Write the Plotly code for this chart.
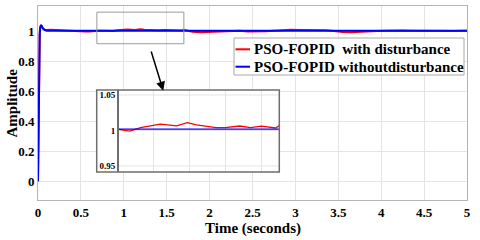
import plotly.graph_objects as go

# ---------------- data ----------------
time_blue = [0, 0.005, 0.01, 0.015, 0.02, 0.025, 0.03, 0.035, 0.045, 0.06, 0.08, 0.1, 5.0]
amp_blue = [0, 0.35, 0.7, 0.9, 0.98, 1.02, 1.035, 1.04, 1.03, 1.015, 1.006, 1.002, 1.002]

time_red = [0, 0.005, 0.01, 0.015, 0.02, 0.025, 0.03, 0.035, 0.045, 0.06, 0.08,
            0.1, 0.15, 0.2, 0.25, 0.3, 0.4, 0.5, 0.55, 0.6, 0.65, 0.7,
            0.8, 0.87, 0.93, 1.04, 1.13, 1.19, 1.24, 1.35, 1.4, 1.48, 1.54, 1.6, 1.68, 1.7,
            1.75, 1.8, 1.9, 2.0, 2.1, 2.15, 2.25, 2.35, 2.45, 2.55, 2.65, 2.75,
            2.85, 2.95, 3.05, 3.15, 3.25, 3.35, 3.45, 3.55, 3.65, 3.75, 3.85, 3.95,
            4.05, 4.15, 4.25, 4.35, 4.45, 4.55, 4.65, 4.75, 4.85, 4.95, 5.0]
amp_red = [0, 0.35, 0.7, 0.9, 0.98, 1.02, 1.035, 1.04, 1.03, 1.015, 1.008,
           1.006, 1.008, 1.006, 1.004, 1.001, 1.0, 0.998, 0.996, 0.997, 1.0, 1.002,
           1.002, 0.999, 1.004, 1.009, 1.0066, 1.011, 1.008, 1.004, 1.004, 1.0063, 1.004, 1.006, 1.0035, 1.007,
           0.998, 0.994, 0.992, 0.993, 0.994, 0.996, 1.0, 1.001, 0.997, 0.996, 0.998, 1.002,
           1.006, 1.008, 1.007, 1.008, 1.007, 1.005, 1.0, 0.993, 0.992, 0.993, 0.995, 1.0,
           1.002, 1.005, 1.003, 1.002, 1.001, 0.999, 0.997, 0.997, 0.999, 1.001, 1.002]

series_names = ["PSO-FOPID  with disturbance", "PSO-FOPID withoutdisturbance"]
series_colors = ["#ff0000", "#0000ff"]

x_ticks = [0, 0.5, 1, 1.5, 2, 2.5, 3, 3.5, 4, 4.5, 5]
x_tick_text = ["0", "0.5", "1", "1.5", "2", "2.5", "3", "3.5", "4", "4.5", "5"]
y_ticks = [0, 0.2, 0.4, 0.6, 0.8, 1]
y_tick_text = ["0", "0.2", "0.4", "0.6", "0.8", "1"]
x_title = "Time (seconds)"
y_title = "Amplitude"

inset_x_ticks = [0.8, 1.0, 1.2, 1.4, 1.6]
inset_y_ticks = [0.95, 1.0, 1.05]
inset_y_tick_text = ["0.95", "1", "1.05"]
inset_t_start = 0.8

zoom_box = dict(x0=0.686, x1=1.70, y0=0.915, y1=1.125)
arrow_from = (1.314, 0.873)
arrow_to = (1.46, 0.602)

# ---------------- layout helpers (pixel -> paper) ----------------
W, H = 480, 240
ML, MR, MT, MB = 38, 13, 6, 40
PW, PH = W - ML - MR, H - MT - MB


def px2x(px):
    return (px - ML) / PW


def px2y(py):
    return 1 - (py - MT) / PH


SERIF = "'Liberation Serif', 'Times New Roman', Times, serif"
GRID = "#e4e4e4"
FRAME = "#b4b4b4"

fig = go.Figure()

# main traces
fig.add_trace(go.Scatter(x=time_red, y=amp_red, mode="lines",
                         line=dict(color=series_colors[0], width=2),
                         name=series_names[0], showlegend=False))
fig.add_trace(go.Scatter(x=time_blue, y=amp_blue, mode="lines",
                         line=dict(color=series_colors[1], width=2),
                         name=series_names[1], showlegend=False))

# inset traces
ri = [i for i, t in enumerate(time_red) if t >= inset_t_start]
fig.add_trace(go.Scatter(x=[time_red[i] for i in ri], y=[amp_red[i] for i in ri],
                         mode="lines", line=dict(color=series_colors[0], width=1.3),
                         xaxis="x2", yaxis="y2", showlegend=False))
bt = [inset_t_start, time_blue[-1]]
fig.add_trace(go.Scatter(x=bt, y=[amp_blue[-1], amp_blue[-1]],
                         mode="lines", line=dict(color=series_colors[1], width=1.3),
                         xaxis="x2", yaxis="y2", showlegend=False))

tickfont = dict(family=SERIF, size=13, color="black", weight="bold")
titlefont = dict(family=SERIF, size=15, color="black", weight="bold")

fig.update_layout(
    width=W, height=H,
    margin=dict(l=ML, r=MR, t=MT, b=MB, autoexpand=False),
    paper_bgcolor="white", plot_bgcolor="white",
    showlegend=False,
    xaxis=dict(range=[0, 5], tickvals=x_ticks, ticktext=x_tick_text,
               showgrid=True, gridcolor=GRID, gridwidth=1, zeroline=False,
               showline=True, linecolor=FRAME, linewidth=1, mirror=True,
               ticks="", tickfont=tickfont, automargin=False),
    yaxis=dict(range=[-0.125, 1.166], tickvals=y_ticks, ticktext=y_tick_text,
               showgrid=True, gridcolor=GRID, gridwidth=1, zeroline=False,
               showline=True, linecolor=FRAME, linewidth=1, mirror=True,
               ticks="", tickfont=tickfont, automargin=False),
    xaxis2=dict(domain=[px2x(96.7), px2x(279.3)], range=[0.687, 1.7],
                anchor="y2", tickvals=inset_x_ticks, showticklabels=False,
                showgrid=True, gridcolor=GRID, zeroline=False,
                showline=False, ticks="", automargin=False),
    yaxis2=dict(domain=[px2y(172), px2y(90)], range=[0.9415, 1.057],
                anchor="free", position=px2x(117),
                tickvals=inset_y_ticks, ticktext=inset_y_tick_text,
                showgrid=False, zeroline=False, automargin=False,
                showline=True, linecolor="#6e6e6e", linewidth=1.5, ticks="",
                tickfont=dict(family=SERIF, size=9, color="black", weight="bold")),
)

shapes = []
# inset horizontal grid lines (only over the inset plot region)
for v in inset_y_ticks:
    shapes.append(dict(type="line", xref="x2", yref="y2", x0=inset_t_start, x1=1.7,
                       y0=v, y1=v, line=dict(color=GRID, width=1), layer="below"))
# inset frame
shapes.append(dict(type="rect", xref="paper", yref="paper",
                   x0=px2x(96.7), x1=px2x(279.3), y0=px2y(172), y1=px2y(90),
                   line=dict(color="#6e6e6e", width=1.5), fillcolor="rgba(0,0,0,0)",
                   layer="above"))
# zoom indicator rectangle
shapes.append(dict(type="rect", xref="x", yref="y", **zoom_box,
                   line=dict(color="#9a9a9a", width=1), layer="above"))
# legend box
shapes.append(dict(type="rect", xref="paper", yref="paper",
                   x0=px2x(234), x1=px2x(464), y0=px2y(75), y1=px2y(38),
                   line=dict(color="#a8a8a8", width=1), fillcolor="white", layer="above"))
leg_rows = [49.3, 66.7]
for name, col, ry in zip(series_names, series_colors, leg_rows):
    shapes.append(dict(type="line", xref="paper", yref="paper",
                       x0=px2x(235.5), x1=px2x(250), y0=px2y(ry), y1=px2y(ry),
                       line=dict(color=col, width=2), layer="above"))
fig.update_layout(shapes=shapes)

annotations = []
for name, ry in zip(series_names, leg_rows):
    annotations.append(dict(xref="paper", yref="paper", x=px2x(252), y=px2y(ry),
                            text=name.replace("  ", "&nbsp; "), showarrow=False,
                            xanchor="left", yanchor="middle",
                            font=dict(family=SERIF, size=15, color="black", weight="bold")))
# axis titles
annotations.append(dict(xref="paper", yref="paper", x=px2x(252.5), y=px2y(228),
                        text=x_title, showarrow=False, xanchor="center", yanchor="middle",
                        font=titlefont))
annotations.append(dict(xref="paper", yref="paper", x=px2x(11.5), y=px2y(103),
                        text=y_title, showarrow=False, xanchor="center", yanchor="middle",
                        textangle=-90, font=titlefont))
annotations.append(dict(xref="x", yref="y", x=arrow_to[0], y=arrow_to[1],
                        axref="x", ayref="y", ax=arrow_from[0], ay=arrow_from[1],
                        text="", showarrow=True, arrowhead=2, arrowsize=1.2,
                        arrowwidth=1.5, arrowcolor="black"))
fig.update_layout(annotations=annotations)

fig.write_html("out.html",
               config={"displayModeBar": False, "staticPlot": True},
               post_script="document.body.style.margin='0';document.body.style.overflow='hidden';")
